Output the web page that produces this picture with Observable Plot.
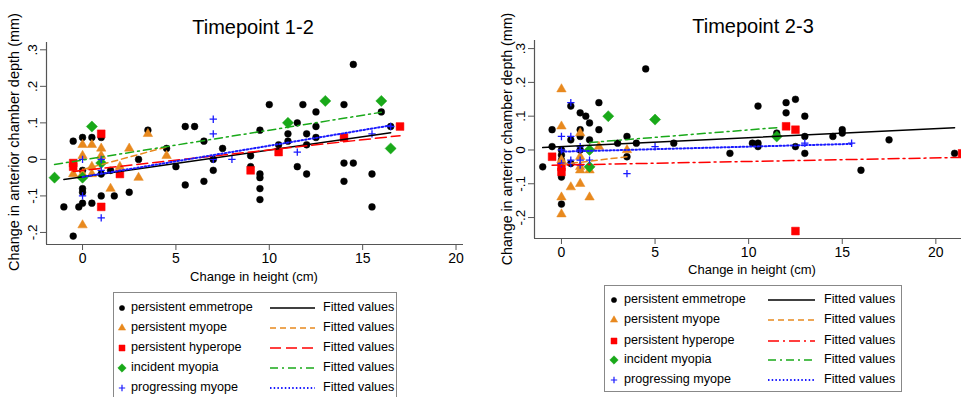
<!DOCTYPE html>
<html>
<head>
<meta charset="utf-8">
<script src="https://cdn.jsdelivr.net/npm/d3@7"></script>
<script src="https://cdn.jsdelivr.net/npm/@observablehq/plot@0.6"></script>
<style>
  html, body { margin: 0; padding: 0; background: #fff; overflow: hidden; }
  #wrap { position: relative; width: 961px; height: 397px; overflow: hidden; font-family: "Liberation Sans", Arial, sans-serif; color: #000; }
  .abs { position: absolute; }
  .title { font-size: 20px; white-space: nowrap; transform: translate(-50%, -50%); }
  .xlab { font-size: 13px; white-space: nowrap; transform: translate(-50%, -50%); }
  .ylab { white-space: nowrap; transform: translate(-50%, -50%) rotate(-90deg); }
  .legend { border: 1px solid #888; background: #fff; box-sizing: border-box; }
  .row { position: absolute; left: 0; right: 0; height: 18px; font-size: 12.6px; }
  .row svg { position: absolute; top: 0; }
  .row span { position: absolute; top: 1px; white-space: nowrap; }
</style>
</head>
<body>
<div id="wrap"></div>
<script>
// ---------- data ----------
const groups = ["persistent emmetrope", "persistent myope", "persistent hyperope", "incident myopia", "progressing myope"];
const fitLabel = "Fitted values";
const titles = ["Timepoint 1-2", "Timepoint 2-3"];
const xLabel = "Change in height (cm)";
const yLabel = "Change in anterior chamber depth (mm)";
const xTicks = [0, 5, 10, 15, 20];
const yTicks = [-0.2, -0.1, 0, 0.1, 0.2, 0.3];

// Timepoint 1-2: [change in height, change in ACD]
const tp12_emmetrope = [[-1,-0.13],[-0.5,-0.21],[-0.5,0.05],[-0.2,-0.13],[0,-0.12],[0,0.06],[0,-0.03],[0,-0.08],[0,-0.09],[0.5,0.06],[0.5,-0.12],[1,0.06],[1,-0.1],[1,-0.04],[1.5,-0.03],[1.7,-0.1],[2.5,-0.09],[3,0],[3.5,0.08],[4.5,0.03],[5,-0.02],[5.5,0.09],[5.5,-0.07],[6,0.09],[6.5,0.05],[6.5,-0.06],[7,-0.03],[7,0],[7.5,0.03],[9,0.01],[9,-0.02],[9.5,0.08],[9.5,-0.04],[9.5,-0.05],[9.5,-0.08],[9.5,-0.11],[10,0.15],[10.5,0.04],[11,0.07],[11,0.05],[11.5,0.1],[11.5,-0.02],[11.8,0.15],[12,0.07],[12,0.04],[12,-0.04],[12.5,0.13],[12.5,0.09],[12.5,0.06],[14,0.15],[14,-0.01],[14,-0.06],[14.5,0.26],[14.5,-0.01],[15.5,-0.04],[15.5,-0.13],[16,0.13],[16.5,0.09]];
const tp12_myope = [[-0.5,-0.04],[0,0.04],[0,0.01],[0,-0.04],[0.5,0.04],[0.5,-0.02],[0.5,-0.04],[1,0.03],[1,0.01],[1.5,-0.08],[2,-0.02],[2.5,0.03],[3,-0.05],[3.5,0.07],[4.5,0.01],[0,-0.18]];
const tp12_hyperope = [[-0.5,-0.01],[-0.5,-0.02],[1,0.07],[1,-0.13],[2,-0.04],[9,-0.03],[10.5,0.02],[14,0.06],[17,0.09]];
const tp12_incident = [[-1.5,-0.05],[0,-0.05],[0.5,0.09],[1,-0.01],[11,0.1],[13,0.16],[16,0.16],[16.5,0.03]];
const tp12_progressing = [[0,0],[0,-0.1],[1,0],[1,-0.03],[1,-0.16],[7,0.11],[7,0.07],[7,0],[8,0],[11.5,0.02],[15.5,0.07],[16.5,0.09]];
// fitted lines [x1, y1, x2, y2] per group
const tp12_fits = [[-1,-0.055,16.5,0.073],[-0.5,-0.035,4.5,0.034],[-0.5,-0.033,17,0.065],[-1.5,-0.014,16,0.129],[0,-0.048,16.5,0.093]];

// Timepoint 2-3
const tp23_emmetrope = [[-1,-0.05],[-0.5,0.06],[-0.5,0.01],[0,0],[0,-0.015],[0,-0.03],[0,-0.08],[0,-0.16],[0.5,0.13],[0.5,0.03],[0.5,-0.04],[1,0.11],[1,0.06],[1,0.04],[1,0],[1.3,0.1],[1.5,0.08],[1.5,0.03],[2,0.14],[2,0.06],[3,0.02],[3.5,0.04],[3.5,-0.02],[4,0.02],[4.5,0.24],[6,0.02],[9,-0.01],[10.2,0.02],[10.5,0.02],[10.5,0.01],[10.5,0.13],[11.5,0.05],[12,0.14],[12,0.11],[12.5,0.15],[12.5,0.01],[13,0.1],[13,0.04],[13,-0.01],[14.5,0.04],[15,0.06],[15,0.05],[16,-0.06],[17.5,0.03],[21,-0.01]];
const tp23_myope = [[0,0.18],[0,0.07],[0,-0.03],[0,-0.14],[0,-0.19],[0.5,-0.11],[1,0.05],[1,-0.02],[1,-0.05],[1,-0.06],[1,-0.1],[1.5,-0.06],[1.5,-0.14],[2,0.01],[3.5,0]];
const tp23_hyperope = [[-0.5,-0.02],[0,-0.05],[0,-0.065],[12,0.07],[12.5,0.06],[12.5,-0.24],[21.4,-0.01]];
const tp23_incident = [[1.5,0],[1.5,-0.05],[2.5,0.1],[5,0.09],[11.5,0.04]];
const tp23_progressing = [[0,0.04],[0,0],[0,-0.04],[0.5,0.14],[0.5,0.04],[0.5,-0.03],[0.5,-0.04],[1,0.01],[1,0],[1,-0.03],[1,-0.045],[1.5,-0.03],[3.5,-0.07],[5,0.01],[13,0.02],[15.5,0.02]];
const tp23_fits = [[-1,0.007,21,0.066],[0,-0.043,3.5,-0.02],[-0.5,-0.045,21.4,-0.022],[1.5,0.022,11.5,0.066],[0,-0.005,15.5,0.018]];

// ---------- styles ----------
const colors = ["#000000", "#e8891e", "#ff0000", "#19a919", "#1a1aff"];
const symbols = ["circle", "triangle", "square", "diamond2", "plus"];
const sizes = [3.4, 3.5, 4.4, 5.0, 2.5];
const legendSizes = [2.6, 2.7, 3.4, 3.8, 2.2];
const dashLeft = [null, "6,4", "11,5", "8,4,2,4", "1.5,2.2"];
const dashRight = [null, "6,4", "11,4,2,4", "8,4,2,4", "1.5,2.2"];

const fmtY = d => d === 0 ? "0" : (d < 0 ? "-" : "") + Math.abs(d).toFixed(1).replace(/^0/, "");

function panel(o) {
  const sets = o.sets;
  const marks = [];
  marks.push(Plot.ruleX([o.xDomain[0]], {stroke: "#555", strokeWidth: 1.2}));
  marks.push(Plot.ruleY([o.yDomain[0]], {stroke: "#555", strokeWidth: 1.2}));
  marks.push(Plot.axisX({ticks: xTicks, tickSize: 6, tickPadding: 3, fontSize: 14, label: null, stroke: "#555", fill: "#000"}));
  marks.push(Plot.axisY({ticks: yTicks, tickSize: 6, tickFormat: () => "", label: null, stroke: "#555"}));
  marks.push(Plot.text(yTicks, {y: d => d, text: fmtY, frameAnchor: "left", dx: -10, rotate: -90, textAnchor: "middle", lineAnchor: "bottom", fontSize: 13.5, fill: "#000"}));
  sets.forEach((pts, i) => {
    const filled = symbols[i] !== "plus";
    marks.push(Plot.dot(pts, {
      x: d => d[0], y: d => d[1], r: sizes[i], symbol: () => symbols[i],
      fill: filled ? colors[i] : "none", stroke: colors[i], strokeWidth: filled ? 0.5 : 1.3
    }));
  });
  o.fits.forEach((f, i) => {
    const seg = [{x: f[0], y: f[1]}, {x: f[2], y: f[3]}];
    marks.push(Plot.line(seg, {x: "x", y: "y", stroke: colors[i], strokeWidth: i === 4 ? 2 : 1.5, strokeDasharray: o.dash[i] || undefined}));
  });
  return Plot.plot({
    width: o.width, height: o.height,
    marginLeft: o.ml, marginRight: o.mr, marginTop: o.mt, marginBottom: o.mb,
    x: {domain: o.xDomain},
    y: {domain: o.yDomain},
    symbol: {type: "identity"},
    style: {fontFamily: "Liberation Sans, Arial, sans-serif", background: "transparent", overflow: "hidden"},
    marks
  });
}

const wrap = document.getElementById("wrap");
function addDiv(cls, css, text) {
  const d = document.createElement("div");
  d.className = "abs " + cls;
  Object.assign(d.style, css);
  if (text != null) d.textContent = text;
  wrap.appendChild(d);
  return d;
}

const p1 = addDiv("", {left: "0px", top: "0px", width: "480px", height: "280px"});
p1.appendChild(panel({
  width: 480, height: 280, ml: 46, mr: 17, mt: 42, mb: 36,
  xDomain: [-1.93, 20.4], yDomain: [-0.233, 0.32],
  sets: [tp12_emmetrope, tp12_myope, tp12_hyperope, tp12_incident, tp12_progressing],
  fits: tp12_fits, dash: dashLeft
}));
const p2 = addDiv("", {left: "480px", top: "0px", width: "481px", height: "280px"});
p2.appendChild(panel({
  width: 481, height: 280, ml: 54, mr: 0, mt: 40, mb: 42,
  xDomain: [-1.44, 21.37], yDomain: [-0.262, 0.324],
  sets: [tp23_emmetrope, tp23_myope, tp23_hyperope, tp23_incident, tp23_progressing],
  fits: tp23_fits, dash: dashRight
}));

addDiv("title", {left: "253px", top: "27px"}, titles[0]);
addDiv("title", {left: "753px", top: "26px"}, titles[1]);
addDiv("xlab", {left: "254px", top: "276px"}, xLabel);
addDiv("xlab", {left: "752px", top: "269px"}, xLabel);
addDiv("ylab", {left: "14px", top: "142px", fontSize: "14.5px"}, yLabel);
addDiv("ylab", {left: "507px", top: "139px", fontSize: "14.2px"}, yLabel);

function symbolPath(i, r) {
  const map = {circle: d3.symbolCircle, triangle: d3.symbolTriangle, square: d3.symbolSquare, diamond2: d3.symbolDiamond2, plus: d3.symbolPlus};
  return d3.symbol(map[symbols[i]], Math.PI * r * r)();
}
function legend(box, rowTops, cols, dash) {
  const L = addDiv("legend", box);
  groups.forEach((g, i) => {
    const row = document.createElement("div");
    row.className = "row";
    row.style.top = rowTops[i] + "px";
    const filled = symbols[i] !== "plus";
    row.innerHTML =
      `<svg width="12" height="18" style="left:${cols[0] - 6}px"><path transform="translate(6,9)" d="${symbolPath(i, legendSizes[i])}" fill="${filled ? colors[i] : "none"}" stroke="${colors[i]}" stroke-width="${filled ? 0.5 : 1.2}"/></svg>` +
      `<span style="left:${cols[1]}px">${g}</span>` +
      `<svg width="${cols[3] - cols[2]}" height="18" style="left:${cols[2]}px"><line x1="0" x2="${cols[3] - cols[2]}" y1="9" y2="9" stroke="${colors[i]}" stroke-width="${i === 4 ? 2 : 1.5}" ${dash[i] ? `stroke-dasharray="${dash[i]}"` : ""}/></svg>` +
      `<span style="left:${cols[4]}px">${fitLabel}</span>`;
    L.appendChild(row);
  });
}
legend({left: "113px", top: "292px", width: "284px", height: "112px"}, [6, 25.5, 45.5, 65.5, 85.5], [8, 17, 156, 201, 209], dashLeft);
legend({left: "604px", top: "285px", width: "298px", height: "107px"}, [5, 25, 45.5, 64.5, 84.5], [9, 19, 163, 210, 219], dashRight);
</script>
</body>
</html>
